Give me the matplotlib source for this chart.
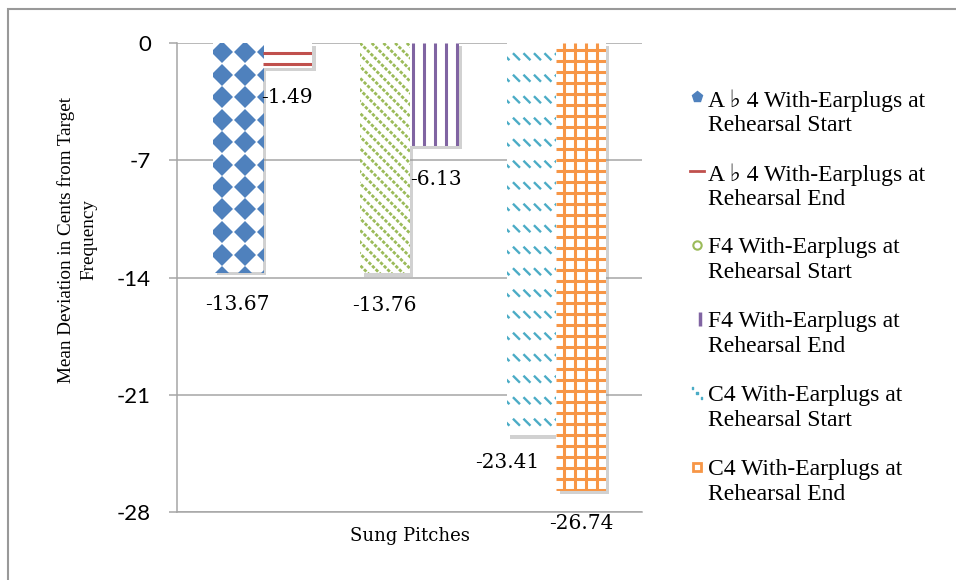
import numpy as np
import matplotlib
matplotlib.use("Agg")
import matplotlib.pyplot as plt
import matplotlib.patheffects as pe
from matplotlib.patches import Rectangle

# data
series = [
    "A \u266d 4 With-Earplugs at\nRehearsal Start",
    "A \u266d 4 With-Earplugs at\nRehearsal End",
    "F4 With-Earplugs at\nRehearsal Start",
    "F4 With-Earplugs at\nRehearsal End",
    "C4 With-Earplugs at\nRehearsal Start",
    "C4 With-Earplugs at\nRehearsal End",
]
values = [-13.67, -1.49, -13.76, -6.13, -23.41, -26.74]
yticks = [0, -7, -14, -21, -28]
category = "Sung Pitches"
ylabel = "Mean Deviation in Cents from Target\nFrequency"

colors = ["#4f81bd", "#c0504d", "#9bbb59", "#8064a2", "#4bacc6", "#f79646"]
patterns = ["diamond", "hlines", "diag", "vlines", "dashdiag", "grid"]
# label offsets from bar end, in pixels (dx, dy)
label_offsets = [(0, -33), (0, -30), (0, -32), (2, -34), (-24, -27), (0, -33)]

SERIF = ["Liberation Serif", "DejaVu Serif", "DejaVu Sans"]

W, H = 956, 580
fig = plt.figure(figsize=(W / 100, H / 100), dpi=100)
ax = fig.add_axes([177 / W, 1 - 512 / H, 465 / W, 469 / H])

XMAX = 9.4
ax.set_xlim(0, XMAX)
ax.set_ylim(-28, 0)
px_x = XMAX / 465.0   # data units per pixel
px_y = 28 / 469.0

grey = "#a6a6a6"
ax.set_yticks(yticks)
ax.set_yticklabels([str(t) for t in yticks], fontfamily="Lato", fontsize=16)
ax.set_xticks([])
ax.tick_params(axis="y", length=5.8, width=1.1, color=grey, pad=13)
ax.grid(axis="y", color=grey, lw=1.1, zorder=0)
ax.set_axisbelow(True)
for s in ["top", "right"]:
    ax.spines[s].set_visible(False)
for s in ["left", "bottom"]:
    ax.spines[s].set_color(grey)
    ax.spines[s].set_linewidth(1.1)


def hl(bar, ys, color, lw, **kw):
    x0 = bar.get_x()
    x1 = x0 + bar.get_width()
    for y in ys:
        ln, = ax.plot([x0, x1], [y, y], color=color, lw=lw, zorder=3,
                      solid_capstyle="butt", **kw)
        ln.set_clip_path(bar)


def vl(bar, xs, color, lw, **kw):
    y0 = bar.get_y() + bar.get_height()
    for x in xs:
        ln, = ax.plot([x, x], [0, y0], color=color, lw=lw, zorder=3,
                      solid_capstyle="butt", **kw)
        ln.set_clip_path(bar)


def fill_pattern(bar, kind, color):
    x0 = bar.get_x()
    w = bar.get_width()
    h = -bar.get_height()          # positive depth in data units
    nx = int(w / px_x)
    ny = int(h / px_y)
    if kind == "diamond":
        xs = x0 + (9 + 23 * np.arange(nx // 23 + 2)) * px_x
        ys = -(9 + 22.5 * np.arange(ny // 22 + 2)) * px_y
        gx, gy = np.meshgrid(xs, ys)
        ln, = ax.plot(gx.ravel(), gy.ravel(), ls="none", marker="D", ms=11.2,
                      color=color, mew=0, zorder=3)
        ln.set_clip_path(bar)
    elif kind == "hlines":
        hl(bar, -(9.5 + 11.5 * np.arange(ny // 11 + 2)) * px_y, color, 2.2)
    elif kind == "vlines":
        vl(bar, x0 + (3 + 11 * np.arange(nx // 11 + 2)) * px_x, color, 2.2)
    elif kind == "grid":
        vl(bar, x0 + (8 + 11 * np.arange(nx // 11 + 2)) * px_x, color, 2.2)
        hl(bar, -(7 + 11 * np.arange(ny // 11 + 2)) * px_y, color, 2.2)
    elif kind == "diag":
        step = 11.7
        for k in range(-int((ny + 10) / step), int(nx / step) + 2):
            xa = k * step
            ln, = ax.plot([x0 + xa * px_x, x0 + (xa + ny + 20) * px_x],
                          [0, -(ny + 20) * px_y], color=color, lw=2.0,
                          ls=(0, (1.2, 0.6)), zorder=3)
            ln.set_clip_path(bar)
    elif kind == "dashdiag":
        for j in range(int(ny / 21.5) + 2):
            yc = 13.7 + 21.5 * j
            for i in range(int(nx / 10.5) + 2):
                xc = -1 + 10.5 * i
                ln, = ax.plot([x0 + (xc - 3.5) * px_x, x0 + (xc + 3.5) * px_x],
                              [-(yc - 3.5) * px_y, -(yc + 3.5) * px_y],
                              color=color, lw=1.7, solid_capstyle="butt",
                              zorder=3)
                ln.set_clip_path(bar)


shadow = [pe.SimplePatchShadow(offset=(2.5, -2.5), shadow_rgbFace=(0.6, 0.6, 0.6),
                               alpha=0.45), pe.Normal()]
for i, v in enumerate(values):
    left = 0.73 + (i // 2) * 2.97 + (i % 2) * 1.0
    bar = ax.bar(left, v, width=1.0, align="edge", color="white", lw=0,
                 zorder=2)[0]
    bar.set_path_effects(shadow)
    fill_pattern(bar, patterns[i], colors[i])
    dx, dy = label_offsets[i]
    ax.annotate(f"{v:.2f}", xy=(left + 0.5, v), xytext=(dx * 0.72, dy * 0.72),
                textcoords="offset points", ha="center", va="center",
                fontfamily="DejaVu Serif", fontsize=14.5, color="black",
                zorder=5, annotation_clip=False)

ax.set_xlabel(category, fontfamily="DejaVu Serif", fontsize=13, labelpad=11)
fig.text(77 / W, 1 - 240 / H, ylabel, rotation=90, ha="center", va="center",
         multialignment="center", fontfamily=SERIF, fontsize=13.8,
         linespacing=1.45)

# legend drawn by hand: key aligned with the first line of each entry
key_x = 697 / W
text_x = 708 / W
for i, lab in enumerate(series):
    base = 108 + 74 * i               # baseline of first line, px
    yk = 1 - (base - 11) / H
    c = colors[i]
    kw = dict(transform=fig.transFigure, clip_on=False)
    if i == 0:
        fig.lines.append(plt.Line2D([key_x], [yk], ls="none", marker="p", ms=8,
                                    color=c, **kw))
    elif i == 1:
        fig.lines.append(plt.Line2D([690 / W, 704 / W], [yk, yk], color=c, lw=2,
                                    **kw))
    elif i == 2:
        fig.lines.append(plt.Line2D([key_x], [yk], ls="none", marker="o", ms=6,
                                    mfc="none", mec=c, mew=1.5, **kw))
    elif i == 3:
        fig.lines.append(plt.Line2D([key_x + 3 / W], [yk], ls="none", marker="|",
                                    ms=10, mew=2.5, color=c, **kw))
    elif i == 4:
        fig.lines.append(plt.Line2D([key_x], [yk], ls="none", marker=r"$\ddots$",
                                    ms=8, color=c, **kw))
    else:
        fig.lines.append(plt.Line2D([key_x], [yk], ls="none", marker="s", ms=6,
                                    mfc="none", mec=c, mew=2, **kw))
    # va="top" from the first-line top (baseline minus ascent)
    fig.text(text_x, 1 - (base - 19) / H, lab, ha="left", va="top",
             fontfamily=SERIF, fontsize=17, linespacing=1.22)

fig.patches.append(Rectangle((8 / W, -0.05), 1.2, 1.05 - 9 / H, fill=False,
                             ec="#999999", lw=1.5, transform=fig.transFigure))

fig.savefig("out.png", dpi=100)
